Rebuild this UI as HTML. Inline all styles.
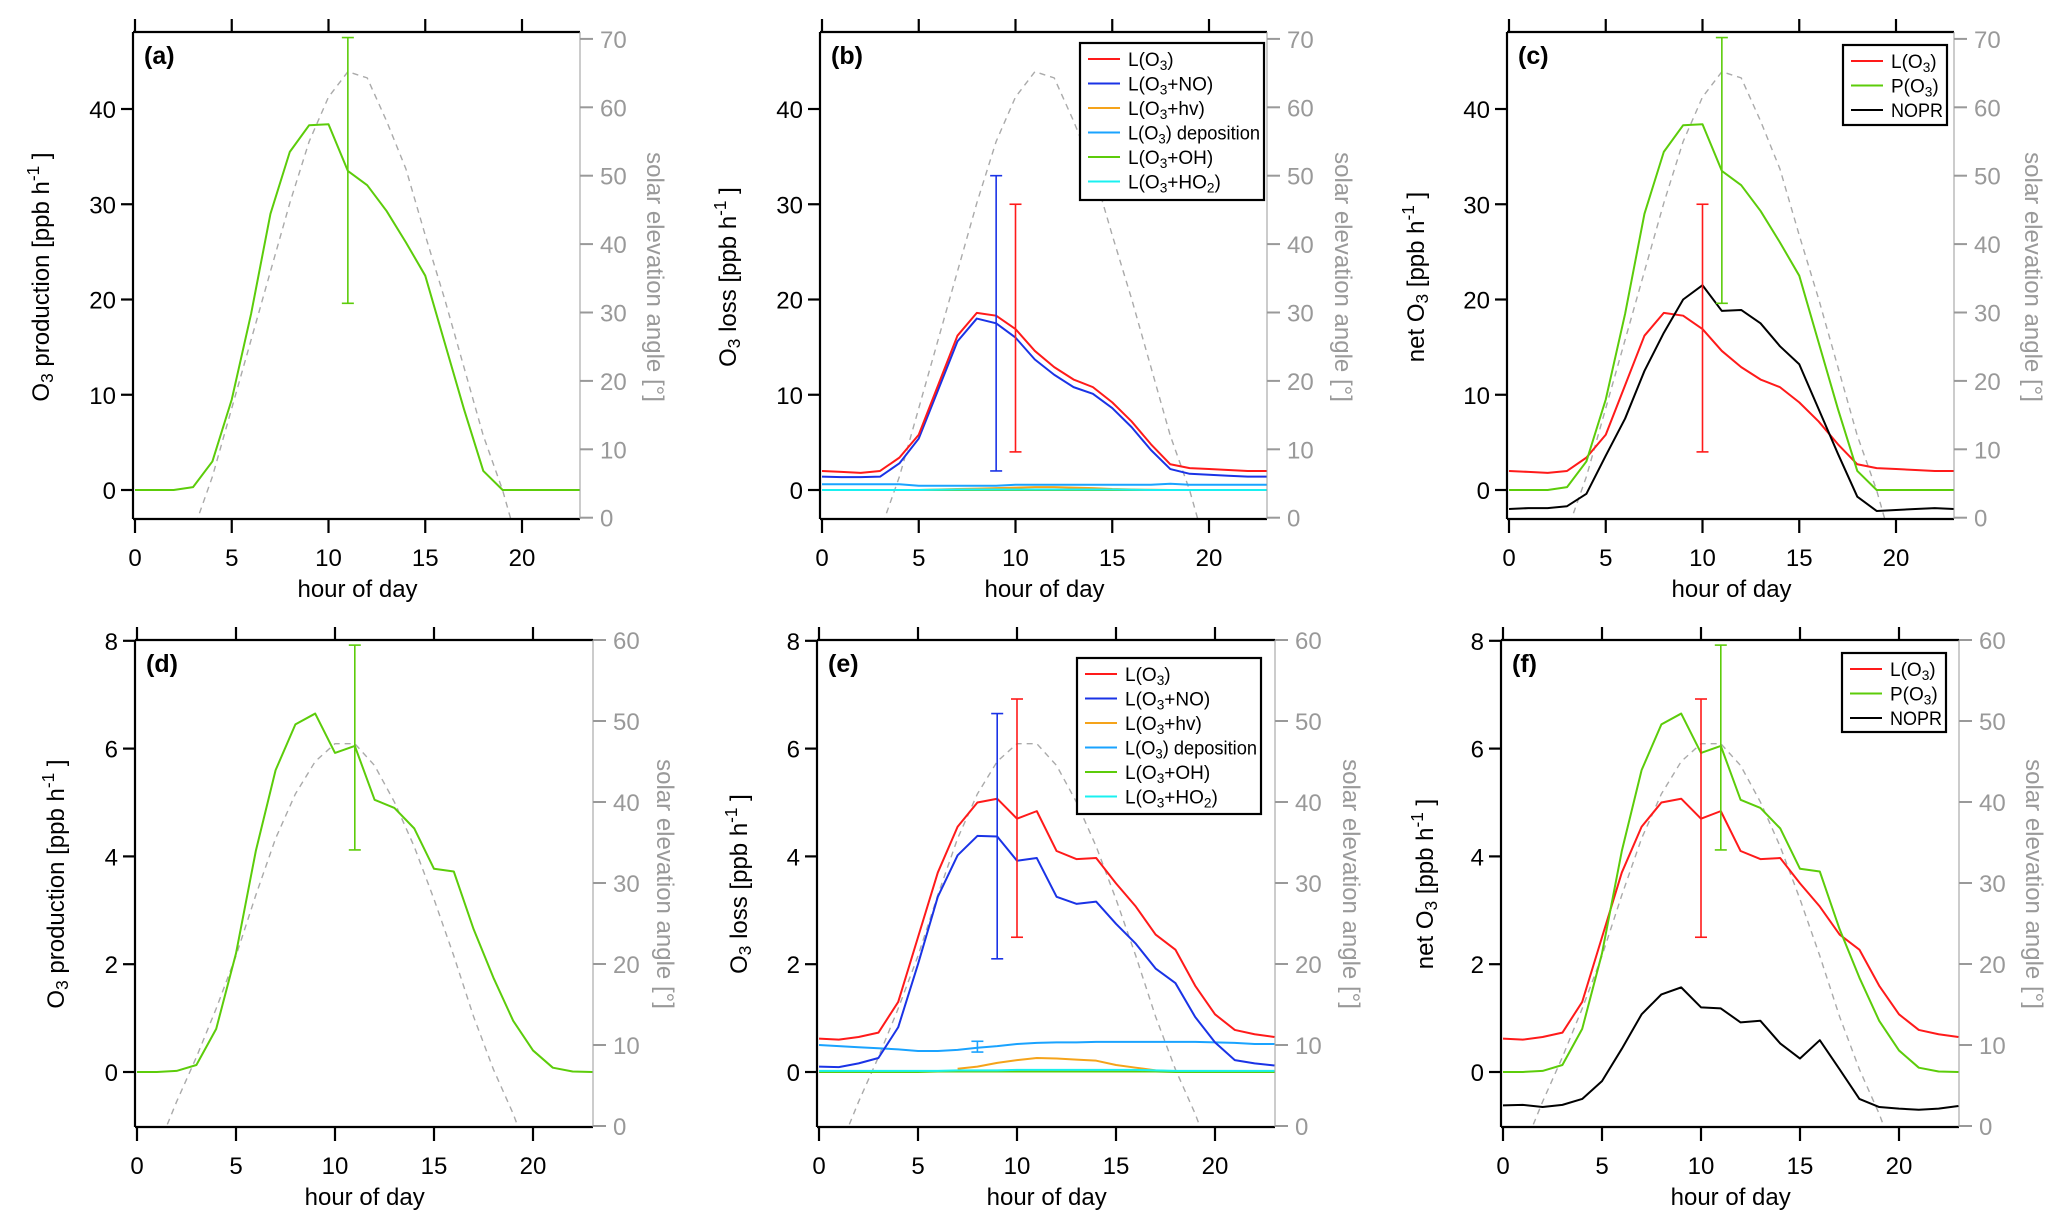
<!DOCTYPE html>
<html><head><meta charset="utf-8">
<style>
html,body{margin:0;padding:0;background:#fff;overflow:hidden;width:2067px;height:1226px;}
svg{display:block;font-family:"Liberation Sans",Arial,sans-serif;}
</style></head>
<body>
<svg id="fig" width="2067" height="1226" viewBox="0 0 2067 1226" xmlns="http://www.w3.org/2000/svg"></svg>
<script>
const hours = [0,1,2,3,4,5,6,7,8,9,10,11,12,13,14,15,16,17,18,19,20,21,22,23];
const xTicks = [0,5,10,15,20];
const yTicksTop = [0,10,20,30,40];
const yTicksBot = [0,2,4,6,8];
const rTicksTop = [0,10,20,30,40,50,60,70];
const rTicksBot = [0,10,20,30,40,50,60];
// solar elevation (deg)
const sunTop = [-25,-18,-11,-2,6,16,26,36,46,55,61.5,65.2,64.3,58,51,41.3,32,22,12,4,-6,-14,-21,-27];
const sunBot = [-10,-3,3,8.5,14.5,21,28.5,35.5,41,45,47.2,47.2,44.5,40,34.5,28,21,13.5,7,1.5,-5,-11,-17,-22];
// top row
const pTop = [0,0,0,0.3,3,9.5,18.5,29,35.5,38.3,38.4,33.5,32,29.3,26,22.5,15.5,8.5,2,0,0,0,0,0];
const lTop = [2.0,1.9,1.8,2.0,3.4,5.8,11,16.2,18.6,18.3,16.9,14.6,12.9,11.6,10.8,9.2,7.2,4.8,2.7,2.3,2.2,2.1,2.0,2.0];
const noTop = [1.4,1.35,1.35,1.4,2.8,5.4,10.5,15.6,18.0,17.5,16.0,13.7,12.1,10.8,10.1,8.6,6.6,4.2,2.2,1.7,1.6,1.5,1.4,1.4];
const hvTop = [0,0,0,0,0,0,0.05,0.1,0.15,0.2,0.25,0.3,0.3,0.25,0.2,0.1,0.05,0.02,0,0,0,0,0,0];
const depTop = [0.6,0.6,0.6,0.6,0.6,0.45,0.45,0.45,0.45,0.45,0.55,0.55,0.55,0.55,0.55,0.55,0.55,0.55,0.65,0.55,0.55,0.55,0.55,0.55];
const ohTop = [0,0,0,0,0,0,0,0,0,0,0,0,0,0,0,0,0,0,0,0,0,0,0,0];
const ho2Top = [0,0,0,0,0,0,0.02,0.05,0.05,0.05,0.05,0.05,0.05,0.05,0.05,0.05,0.02,0,0,0,0,0,0,0];
const nopTop = [-2,-1.9,-1.9,-1.7,-0.4,3.6,7.5,12.5,16.5,20,21.5,18.8,18.9,17.5,15.1,13.2,8.5,3.8,-0.7,-2.2,-2.1,-2.0,-1.9,-2.0];
// bottom row
const pBot = [0,0,0.02,0.13,0.8,2.2,4.1,5.6,6.45,6.65,5.92,6.05,5.05,4.9,4.52,3.77,3.72,2.65,1.75,0.95,0.4,0.08,0.01,0];
const lBot = [0.62,0.6,0.65,0.73,1.3,2.5,3.7,4.55,5.0,5.07,4.7,4.84,4.1,3.95,3.97,3.5,3.07,2.55,2.27,1.6,1.07,0.78,0.7,0.65];
const noBot = [0.1,0.09,0.16,0.26,0.83,2.0,3.25,4.02,4.38,4.37,3.92,3.97,3.25,3.12,3.16,2.75,2.38,1.92,1.65,1.02,0.55,0.22,0.16,0.12];
const hvBot = [null,null,null,null,null,null,null,0.06,0.1,0.17,0.22,0.26,0.25,0.23,0.21,0.13,0.08,0.03,0.01,0,0,0,0,0];
const depBot = [0.5,0.48,0.46,0.44,0.42,0.39,0.39,0.41,0.45,0.48,0.52,0.54,0.55,0.55,0.56,0.56,0.56,0.56,0.56,0.56,0.55,0.54,0.52,0.52];
const ohBot = [0,0,0,0,0,0,0.01,0.01,0.01,0.01,0.01,0.01,0.01,0.01,0.01,0.01,0.01,0.01,0,0,0,0,0,0];
const ho2Bot = [0.02,0.02,0.02,0.02,0.02,0.02,0.02,0.03,0.03,0.03,0.04,0.04,0.04,0.04,0.04,0.04,0.04,0.03,0.02,0.02,0.02,0.02,0.02,0.02];
const nopBot = [-0.62,-0.61,-0.65,-0.61,-0.5,-0.17,0.43,1.07,1.44,1.57,1.2,1.18,0.92,0.95,0.53,0.25,0.59,0.05,-0.5,-0.65,-0.68,-0.7,-0.68,-0.63];
// error bars [hour, low, high]
const errA = [[11,19.6,47.5]];
const errB = [[9,2,33],[10,4,30]];
const errC = [[10,4,30],[11,19.6,47.5]];
const errD = [[11,4.12,7.92]];
const errE = [[9,2.1,6.65],[10,2.5,6.92],[8,0.37,0.57]];
const errF = [[10,2.5,6.92],[11,4.12,7.92]];

const C = {red:'#ff1a1a', blue:'#1a33e6', orange:'#f5a31a', dep:'#1aa3ff', green:'#5ccc0a', cyan:'#1af0f0', black:'#000'};
const NS='http://www.w3.org/2000/svg';
const svg=document.getElementById('fig');
function mk(tag,attrs,parent){const e=document.createElementNS(NS,tag);for(const k in attrs)e.setAttribute(k,attrs[k]);(parent||svg).appendChild(e);return e;}

const rowTop={top:32,bottom:519,y0:490,ppu:9.525,r0:517.7,rppu:6.84,ph:19.35,w:447,yt:yTicksTop,rt:rTicksTop,lab:566,tit:597,ymid:277,sun:sunTop};
const rowBot={top:640,bottom:1127,y0:1072,ppu:53.9,r0:1126,rppu:8.1,ph:19.8,w:458,yt:yTicksBot,rt:rTicksBot,lab:1174,tit:1205,ymid:884,sun:sunBot};

const panels=[
 {id:'a',row:rowTop,x0:135,ltx:40,rtx:656,ylab:'production',series:[{d:pTop,c:C.green,n:'p-o3'}],err:[[errA,C.green]],leg:null},
 {id:'b',row:rowTop,x0:822,ltx:727,rtx:1344,ylab:'loss',series:[{d:depTop,c:C.dep,n:'l-o3-deposition'},{d:ohTop,c:C.green,n:'l-o3-oh'},{d:hvTop,c:C.orange,n:'l-o3-hv'},{d:ho2Top,c:C.cyan,n:'l-o3-ho2'},{d:noTop,c:C.blue,n:'l-o3-no'},{d:lTop,c:C.red,n:'l-o3'}],err:[[[errB[0]],C.blue],[[errB[1]],C.red]],leg:{x:1080,y:43,w:184,h:157,items:'six'}},
 {id:'c',row:rowTop,x0:1509,ltx:1415,rtx:2034,ylab:'net',series:[{d:lTop,c:C.red,n:'l-o3'},{d:pTop,c:C.green,n:'p-o3'},{d:nopTop,c:C.black,n:'nopr'}],err:[[[errC[0]],C.red],[[errC[1]],C.green]],leg:{x:1843,y:45,w:104,h:80,items:'three'}},
 {id:'d',row:rowBot,x0:137,ltx:55,rtx:666,ylab:'production',series:[{d:pBot,c:C.green,n:'p-o3'}],err:[[errD,C.green]],leg:null},
 {id:'e',row:rowBot,x0:819,ltx:738,rtx:1352,ylab:'loss',series:[{d:depBot,c:C.dep,n:'l-o3-deposition'},{d:hvBot,c:C.orange,n:'l-o3-hv'},{d:ohBot,c:C.green,n:'l-o3-oh'},{d:ho2Bot,c:C.cyan,n:'l-o3-ho2'},{d:noBot,c:C.blue,n:'l-o3-no'},{d:lBot,c:C.red,n:'l-o3'}],err:[[[errE[0]],C.blue],[[errE[1]],C.red],[[errE[2]],C.dep]],leg:{x:1077,y:658,w:184,h:156,items:'six'}},
 {id:'f',row:rowBot,x0:1503,ltx:1424,rtx:2035,ylab:'net',series:[{d:lBot,c:C.red,n:'l-o3'},{d:pBot,c:C.green,n:'p-o3'},{d:nopBot,c:C.black,n:'nopr'}],err:[[[errF[0]],C.red],[[errF[1]],C.green]],leg:{x:1842,y:653,w:104,h:79,items:'three'}}
];

function addLabel(parent,parts,attrs){
  const t=mk('text',attrs,parent);
  parts.forEach(p=>{const s=mk('tspan',p.sub?{'baseline-shift':'-25%','font-size':'0.72em'}:(p.sup?{'baseline-shift':'super','font-size':'0.72em'}:{}),t);s.textContent=p.t;});
  return t;
}

panels.forEach(P=>{
  const R=P.row;
  const g=mk('g',{});
  
  
  const L=P.x0-2, Rt=P.x0-2+R.w;
  const X=h=>P.x0+h*R.ph;
  const Y=v=>R.y0-v*R.ppu;
  const YR=v=>R.r0-v*R.rppu;
  const cp=mk('clipPath',{id:'clip'+P.id},g);
  mk('rect',{x:L,y:R.top,width:R.w,height:R.bottom-R.top},cp);
  const sunPts=hours.map((h,i)=>X(h)+','+YR(R.sun[i])).join(' ');
  const sun=mk('polyline',{points:sunPts,fill:'none',stroke:'#aaa','stroke-width':1.4,'stroke-dasharray':'6,5','clip-path':'url(#clip'+P.id+')'},g);
  
  
  P.series.forEach(s=>{
    let seg=[];const segs=[];
    hours.forEach((h,i)=>{if(s.d[i]===null){if(seg.length)segs.push(seg);seg=[];}else seg.push(X(h)+','+Y(s.d[i]));});
    if(seg.length)segs.push(seg);
    segs.forEach(sg=>{
      const pl=mk('polyline',{points:sg.join(' '),fill:'none',stroke:s.c,'stroke-width':2,'stroke-linejoin':'round','clip-path':'url(#clip'+P.id+')'},g);
      
      
    });
  });
  P.err.forEach(([arr,col])=>{arr.forEach(e=>{
    const eg=mk('g',{stroke:col,'stroke-width':1.6},g);
    
    
    const x=X(e[0]);
    mk('line',{x1:x,x2:x,y1:Y(e[1]),y2:Y(e[2])},eg);
    mk('line',{x1:x-6,x2:x+6,y1:Y(e[1]),y2:Y(e[1])},eg);
    mk('line',{x1:x-6,x2:x+6,y1:Y(e[2]),y2:Y(e[2])},eg);
  });});
  const fr=mk('g',{stroke:'#000','stroke-width':2.2,fill:'none'},g);
  
  
  mk('line',{x1:L,x2:Rt,y1:R.top,y2:R.top},fr);
  mk('line',{x1:L,x2:Rt,y1:R.bottom,y2:R.bottom},fr);
  mk('line',{x1:L,x2:L,y1:R.top,y2:R.bottom},fr);
  mk('line',{x1:Rt,x2:Rt,y1:R.top,y2:R.bottom,stroke:'#999'},g);
  const xa=mk('g',{},g);
  
  
  xTicks.forEach(t=>{
    const x=X(t);
    mk('line',{x1:x,x2:x,y1:R.bottom,y2:R.bottom+14,stroke:'#000','stroke-width':2.2},xa);
    mk('line',{x1:x,x2:x,y1:R.top,y2:R.top-13,stroke:'#000','stroke-width':2.2},xa);
    const tl=mk('text',{x:x,y:R.lab,'text-anchor':'middle','font-size':24,fill:'#000'},xa);
    tl.textContent=t;
  });
  const xt=mk('text',{x:X(11.5),y:R.tit,'text-anchor':'middle','font-size':24,fill:'#000'},xa);
  
  
  xt.textContent='hour of day';
  const ya=mk('g',{},g);
  
  
  R.yt.forEach(t=>{
    const y=Y(t);
    mk('line',{x1:L-12,x2:L,y1:y,y2:y,stroke:'#000','stroke-width':2.2},ya);
    const tl=mk('text',{x:L-17,y:y+9,'text-anchor':'end','font-size':24,fill:'#000'},ya);
    tl.textContent=t;
  });
  let parts;
  if(P.ylab==='production')parts=[{t:'O'},{t:'3',sub:1},{t:' production [ppb h'},{t:'-1',sup:1},{t:' ]'}];
  else if(P.ylab==='loss')parts=[{t:'O'},{t:'3',sub:1},{t:' loss [ppb h'},{t:'-1',sup:1},{t:' ]'}];
  else parts=[{t:'net O'},{t:'3',sub:1},{t:' [ppb h'},{t:'-1',sup:1},{t:' ]'}];
  const yt=addLabel(ya,parts,{x:0,y:0,'text-anchor':'middle','font-size':24,fill:'#000',transform:'translate('+(P.ltx+9)+','+R.ymid+') rotate(-90)'});
  
  
  const ra=mk('g',{},g);
  
  
  R.rt.forEach(t=>{
    const y=YR(t);
    mk('line',{x1:Rt,x2:Rt+13,y1:y,y2:y,stroke:'#999','stroke-width':2},ra);
    const tl=mk('text',{x:Rt+20,y:y+9,'font-size':24,fill:'#999'},ra);
    tl.textContent=t;
  });
  const rtt=mk('text',{x:0,y:0,'text-anchor':'middle','font-size':24,fill:'#999',transform:'translate('+(P.rtx-9)+','+R.ymid+') rotate(90)'},ra);
  
  
  rtt.textContent='solar elevation angle [°]';
  const pl=mk('text',{x:L+11,y:R.top+32,'font-size':25,'font-weight':'bold',fill:'#000'},g);
  
  
  pl.textContent='('+P.id+')';
  if(P.leg){
    const lg=mk('g',{},g);
    
    
    mk('rect',{x:P.leg.x,y:P.leg.y,width:P.leg.w,height:P.leg.h,fill:'#fff',stroke:'#000','stroke-width':2.2},lg);
    let items;
    if(P.leg.items==='six')items=[
      [C.red,[{t:'L(O'},{t:'3',sub:1},{t:')'}]],
      [C.blue,[{t:'L(O'},{t:'3',sub:1},{t:'+NO)'}]],
      [C.orange,[{t:'L(O'},{t:'3',sub:1},{t:'+hv)'}]],
      [C.dep,[{t:'L(O'},{t:'3',sub:1},{t:') deposition'}]],
      [C.green,[{t:'L(O'},{t:'3',sub:1},{t:'+OH)'}]],
      [C.cyan,[{t:'L(O'},{t:'3',sub:1},{t:'+HO'},{t:'2',sub:1},{t:')'}]]];
    else items=[
      [C.red,[{t:'L(O'},{t:'3',sub:1},{t:')'}]],
      [C.green,[{t:'P(O'},{t:'3',sub:1},{t:')'}]],
      [C.black,[{t:'NOPR'}]]];
    items.forEach((it,i)=>{
      const y=P.leg.y+16+i*24.5;
      const eg=mk('g',{},lg);
      
      
      mk('line',{x1:P.leg.x+8,x2:P.leg.x+40,y1:y,y2:y,stroke:it[0],'stroke-width':2},eg);
      const tx=addLabel(eg,it[1],{x:P.leg.x+48,y:y+7,'font-size':19,fill:'#000'});
      const maxW=P.leg.w-52;
      try{const w=tx.getComputedTextLength();if(w>maxW){tx.setAttribute('textLength',maxW);tx.setAttribute('lengthAdjust','spacingAndGlyphs');}}catch(err){}
    });
  }
});
</script>
</body></html>
